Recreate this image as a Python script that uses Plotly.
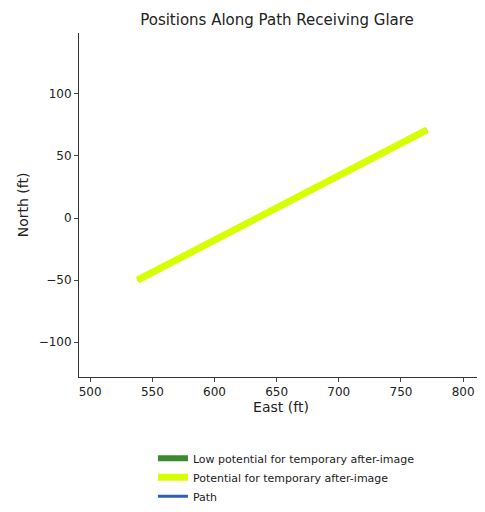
import plotly.graph_objects as go

# path / glare points (ft)
path_east = [538, 771]
path_north = [-50, 71]
glare_east = [538, 771]
glare_north = [-50, 71]
low_east = [None]
low_north = [None]

x_ticks = [500, 550, 600, 650, 700, 750, 800]
y_ticks = [-100, -50, 0, 50, 100]

fig = go.Figure()

# path drawn first so glare covers it
fig.add_trace(go.Scatter(
    x=path_east, y=path_north, mode="lines",
    line=dict(color="#2f5fb0", width=3),
    name="Path", legendrank=3
))
fig.add_trace(go.Scatter(
    x=low_east, y=low_north, mode="lines",
    line=dict(color="#3c8a2e", width=6),
    name="Low potential for temporary after-image", legendrank=1
))
fig.add_trace(go.Scatter(
    x=glare_east, y=glare_north, mode="lines",
    line=dict(color="#d8ff00", width=7),
    name="Potential for temporary after-image", legendrank=2
))

# page has an 8px body margin, so the figure is a bit smaller
fig.update_layout(
    width=477, height=504,
    template="simple_white",
    font=dict(family="DejaVu Sans", size=12, color="#222"),
    title=dict(text="Positions Along Path Receiving Glare", x=0.564, xanchor="center",
               y=0.976, yanchor="middle", font=dict(size=15)),
    margin=dict(l=71, r=2, t=25, b=134),
    showlegend=True,
    legend=dict(orientation="v", x=0.183, xanchor="left", y=-0.385, yanchor="bottom",
                font=dict(size=11), tracegroupgap=0, itemwidth=30),
    plot_bgcolor="white",
)
fig.update_xaxes(range=[491, 816], tickvals=x_ticks, automargin=False,
                 title=dict(text="East (ft)", standoff=2),
                 showline=True, linecolor="#333", ticks="outside", ticklen=4, mirror=False)
fig.update_yaxes(range=[-128, 149], tickvals=y_ticks, automargin=False,
                 title=dict(text="North (ft)", standoff=6),
                 showline=True, linecolor="#333", ticks="outside", ticklen=4, mirror=False)

fig.write_html("out.html")
